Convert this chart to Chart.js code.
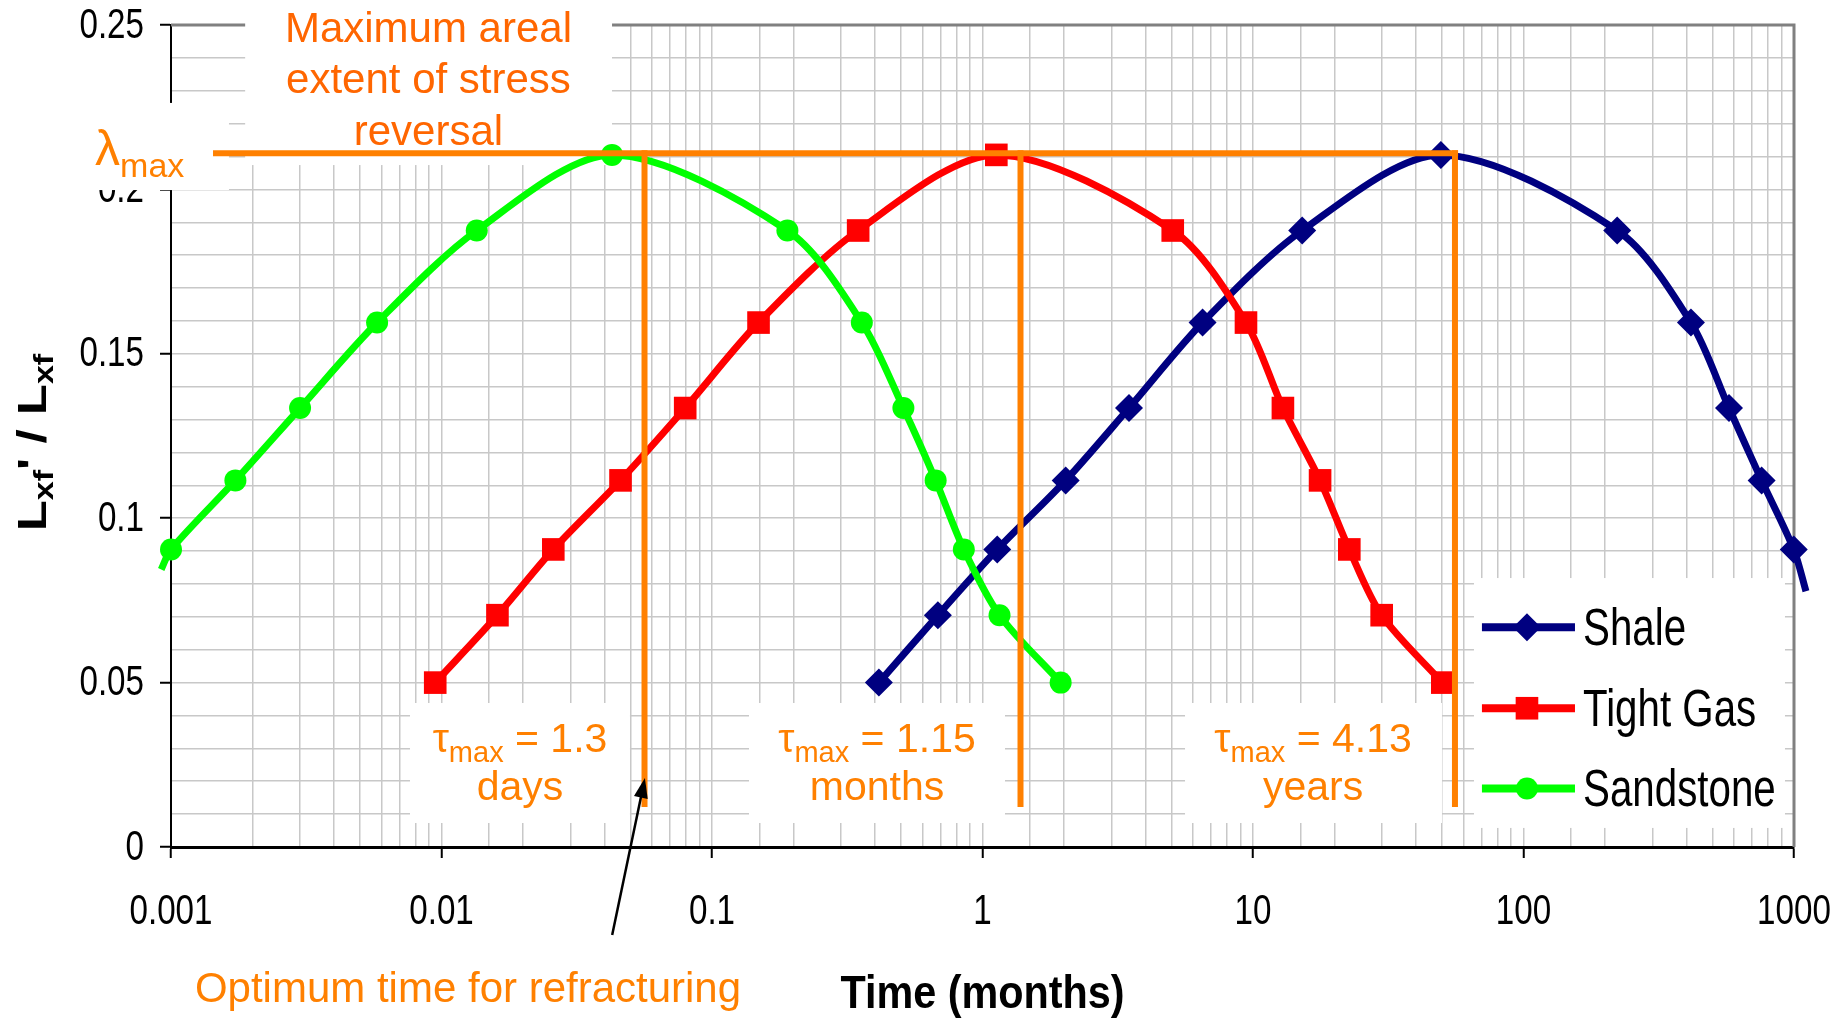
<!DOCTYPE html>
<html>
<head>
<meta charset="utf-8">
<script src="https://cdn.jsdelivr.net/npm/chart.js@4.4.1/dist/chart.umd.min.js"></script>
<style>
  html, body { margin: 0; padding: 0; background: #fff; }
  #wrap { width: 1845px; height: 1020px; position: relative; }
</style>
</head>
<body>
<div id="wrap"><canvas id="chart"></canvas></div>
<script>
(function () {
    /* ── Data (time in months, Lxf'/Lxf) ── */
    const shaleTime  = [0.414, 0.684, 1.134, 2.03, 3.48, 6.51, 15.2, 49.5, 222, 416, 575, 759, 998, 1107];
    const shaleRatio = [0.05, 0.0705, 0.0905, 0.1115, 0.1335, 0.1595, 0.1875, 0.2105, 0.1875, 0.1595, 0.1335, 0.1115, 0.0905, 0.0778];

    const tightTime  = [0.00948, 0.0161, 0.0259, 0.0459, 0.0796, 0.1486, 0.347, 1.125, 5.05, 9.42, 12.9, 17.7, 22.7, 29.9, 50.1];
    const tightRatio = [0.05, 0.0705, 0.0905, 0.1115, 0.1335, 0.1595, 0.1875, 0.2105, 0.1875, 0.1595, 0.1335, 0.1115, 0.0905, 0.0705, 0.05];

    const sandTime   = [0.00092, 0.001, 0.00173, 0.0030, 0.00578, 0.0135, 0.0427, 0.190, 0.358, 0.510, 0.671, 0.853, 1.156, 1.945];
    const sandRatio  = [0.0844, 0.0905, 0.1115, 0.1335, 0.1595, 0.1875, 0.2105, 0.1875, 0.1595, 0.1335, 0.1115, 0.0905, 0.0705, 0.05];

    const xTicks = [0.001, 0.01, 0.1, 1, 10, 100, 1000];
    const yTicks = [0, 0.05, 0.1, 0.15, 0.2, 0.25];

    // annotation values
    const lambdaMax = 0.211;
    const tauTime   = [0.0563, 1.382, 55.8];
    const tauValue  = ['= 1.3', '= 1.15', '= 4.13'];
    const tauUnit   = ['days', 'months', 'years'];

    const FONT   = "'Liberation Sans', Arial, sans-serif";
    const ORANGE = '#ff8000';
    const SQ     = 0.79;   // the original chart is squeezed sideways

    function pts(xs, ys) { return xs.map((x, i) => ({ x: x, y: ys[i] })); }
    function inRange(c) { return c.raw && c.raw.x >= xTicks[0] && c.raw.x <= xTicks[xTicks.length - 1]; }
    function isDecade(v) { const l = Math.log10(v); return Math.abs(l - Math.round(l)) < 1e-6; }
    function isMajorY(v) { return Math.abs(v * 20 - Math.round(v * 20)) < 1e-6; }

    function tx(chart, t) { return chart.scales.x.getPixelForValue(t); }
    function ty(chart, v) { return chart.scales.y.getPixelForValue(v); }

    function squeezed(ctx, text, x, y, sx, align) {
        ctx.save();
        ctx.translate(x, y);
        ctx.scale(sx, 1);
        ctx.textAlign = align;
        ctx.fillText(text, 0, 0);
        ctx.restore();
    }

    // runs: [text, size, dy]
    function rich(ctx, runs, x, y, align, weight) {
        const w = weight ? weight + ' ' : '';
        let total = 0;
        runs.forEach(r => { ctx.font = w + r[1] + 'px ' + FONT; total += ctx.measureText(r[0]).width; });
        let cx = align === 'center' ? x - total / 2 : x;
        ctx.textAlign = 'left';
        runs.forEach(r => {
            ctx.font = w + r[1] + 'px ' + FONT;
            ctx.fillText(r[0], cx, y + r[2]);
            cx += ctx.measureText(r[0]).width;
        });
    }

    /* ── Overlay: frame, labels, text boxes, refracturing lines, legend ── */
    const overlay = {
        id: 'overlay',
        beforeDatasetsDraw(chart) {
            const ctx = chart.ctx, a = chart.chartArea;
            ctx.save();
            ctx.strokeStyle = '#808080';
            ctx.lineWidth = 3;
            ctx.beginPath();
            ctx.moveTo(a.left, a.top);
            ctx.lineTo(a.right, a.top);
            ctx.lineTo(a.right, a.bottom);
            ctx.stroke();

            // tick labels
            ctx.fillStyle = '#000';
            ctx.font = '42px ' + FONT;
            ctx.textBaseline = 'alphabetic';
            xTicks.forEach(t => squeezed(ctx, String(t), tx(chart, t), a.bottom + 77, SQ, 'center'));
            ctx.textBaseline = 'middle';
            yTicks.forEach(v => squeezed(ctx, String(v), a.left - 27, ty(chart, v) + 1, SQ, 'right'));

            // axis titles
            ctx.textBaseline = 'alphabetic';
            ctx.font = 'bold 47px ' + FONT;
            squeezed(ctx, 'Time (months)', tx(chart, 1), a.bottom + 161, 0.88, 'center');

            ctx.save();
            ctx.translate(32, ty(chart, 0.123));
            ctx.rotate(-Math.PI / 2);
            ctx.scale(1, SQ);
            const runs = [['L', 51, 0], ['xf', 34, 9], ["'", 51, 0], [' / ', 51, 0], ['L', 51, 0], ['xf', 34, 9]];
            rich(ctx, runs, 0, 18, 'center', 'bold');
            ctx.restore();

            // white text boxes over the grid
            const boxes = [
                [0.00188, 0.0427, 0.2074, 0.2576],
                [0.000441, 0.001638, 0.1998, 0.2263],
                [0.007647, 0.04973, 0.0073, 0.0438],
                [0.1370, 1.211, 0.0073, 0.0438],
                [5.607, 49.96, 0.0073, 0.0438]
            ];
            ctx.fillStyle = '#fff';
            boxes.forEach(b => {
                const x0 = tx(chart, b[0]), x1 = tx(chart, b[1]);
                const y0 = ty(chart, b[3]), y1 = ty(chart, b[2]);
                ctx.fillRect(x0, y0, x1 - x0, y1 - y0);
            });
            ctx.restore();
        },
        afterDatasetsDraw(chart) {
            const ctx = chart.ctx;
            ctx.save();

            // lambda max and tau max lines
            ctx.strokeStyle = ORANGE;
            ctx.lineWidth = 6;
            const yl = ty(chart, lambdaMax);
            ctx.beginPath();
            ctx.moveTo(tx(chart, 0.00143), yl);
            ctx.lineTo(tx(chart, 57.3), yl);
            ctx.stroke();
            tauTime.forEach(t => {
                ctx.beginPath();
                ctx.moveTo(tx(chart, t), yl - 3);
                ctx.lineTo(tx(chart, t), ty(chart, 0.0122));
                ctx.stroke();
            });

            // texts
            ctx.textBaseline = 'alphabetic';
            ctx.fillStyle = '#ff6600';
            ['Maximum areal', 'extent of stress', 'reversal'].forEach((s, i) => {
                rich(ctx, [[s, 42, 0]], tx(chart, 0.00895), ty(chart, [0.2449, 0.2292, 0.2135][i]), 'center');
            });
            ctx.fillStyle = ORANGE;
            rich(ctx, [['λ', 50, 0], ['max', 34, 12]], tx(chart, 0.000524), ty(chart, 0.2074), 'left');

            const tauCenter = [0.01951, 0.4073, 16.67];
            tauCenter.forEach((c, i) => {
                rich(ctx, [['τ', 41, 0], ['max', 29, 10], [' ' + tauValue[i], 41, 0]], tx(chart, c), ty(chart, 0.029), 'center');
                rich(ctx, [[tauUnit[i], 41, 0]], tx(chart, c), ty(chart, 0.0143), 'center');
            });
            rich(ctx, [['Optimum time for refracturing', 42, 0]], tx(chart, 0.01253), ty(chart, -0.047), 'center');

            // arrow to the first refracturing line
            const x1 = tx(chart, 0.04275), y1 = ty(chart, -0.02676);
            const x2 = tx(chart, 0.0565),  y2 = ty(chart, 0.021);
            const ang = Math.atan2(y2 - y1, x2 - x1);
            ctx.strokeStyle = '#000';
            ctx.fillStyle = '#000';
            ctx.lineWidth = 2.5;
            ctx.beginPath();
            ctx.moveTo(x1, y1);
            ctx.lineTo(x2 - 14 * Math.cos(ang), y2 - 14 * Math.sin(ang));
            ctx.stroke();
            ctx.beginPath();
            ctx.moveTo(x2, y2);
            ctx.lineTo(x2 - 20 * Math.cos(ang) + 7 * Math.sin(ang), y2 - 20 * Math.sin(ang) - 7 * Math.cos(ang));
            ctx.lineTo(x2 - 20 * Math.cos(ang) - 7 * Math.sin(ang), y2 - 20 * Math.sin(ang) + 7 * Math.cos(ang));
            ctx.closePath();
            ctx.fill();

            // legend
            const lx0 = tx(chart, 65.6), lx1 = tx(chart, 926);
            const ly0 = ty(chart, 0.0818), ly1 = ty(chart, 0.0058);
            ctx.fillStyle = '#fff';
            ctx.fillRect(lx0, ly0, lx1 - lx0, ly1 - ly0);
            const rows = [0.0668, 0.0422, 0.0178];
            chart.data.datasets.forEach((ds, i) => {
                const y = ty(chart, rows[i]);
                ctx.strokeStyle = ds.borderColor;
                ctx.lineWidth = 8;
                ctx.beginPath();
                ctx.moveTo(tx(chart, 70.2), y);
                ctx.lineTo(tx(chart, 155), y);
                ctx.stroke();
                ctx.fillStyle = ds.borderColor;
                Chart.helpers.drawPoint(ctx, { pointStyle: ds.pointStyle, radius: ds.legendRadius, rotation: 0, borderWidth: 0 }, tx(chart, 103), y);
                ctx.fillStyle = '#000';
                ctx.font = '51px ' + FONT;
                ctx.textBaseline = 'alphabetic';
                squeezed(ctx, ds.label, tx(chart, 166), y + 18, SQ, 'left');
            });
            ctx.restore();
        }
    };

    function series(label, xs, ys, color, style, r, order) {
        return {
            label: label,
            data: pts(xs, ys),
            borderColor: color,
            backgroundColor: color,
            borderWidth: 7,
            pointStyle: style,
            pointRadius: c => inRange(c) ? r : 0,
            pointBorderWidth: 0,
            pointBackgroundColor: color,
            legendRadius: r,
            tension: 0.3,
            clip: false,
            order: order
        };
    }

    new Chart(document.getElementById('chart'), {
        type: 'line',
        data: {
            datasets: [
                series('Shale', shaleTime, shaleRatio, '#000080', 'rectRot', 14, 2),
                series('Tight Gas', tightTime, tightRatio, '#ff0000', 'rect', 16, 1),
                series('Sandstone', sandTime, sandRatio, '#00ff00', 'circle', 11, 0)
            ]
        },
        options: {
            responsive: true,
            maintainAspectRatio: false,
            animation: false,
            events: [],
            layout: { padding: { left: 0, top: 25, right: 51, bottom: 0 } },
            plugins: { legend: { display: false }, tooltip: { enabled: false } },
            scales: {
                x: {
                    type: 'logarithmic',
                    min: 0.001,
                    max: 1000,
                    afterFit: s => { s.height = 173; },
                    ticks: { display: false, autoSkip: false },
                    grid: {
                        color: '#c8c8c8',
                        lineWidth: 1.5,
                        tickLength: 11,
                        tickWidth: 2,
                        tickColor: c => (c.tick && isDecade(c.tick.value)) ? '#000' : 'rgba(0,0,0,0)'
                    },
                    border: { display: true, color: '#000', width: 3 }
                },
                y: {
                    min: 0,
                    max: 0.25,
                    afterFit: s => { s.width = 171; },
                    ticks: { display: false, stepSize: 0.01, autoSkip: false },
                    grid: {
                        color: '#c8c8c8',
                        lineWidth: 1.5,
                        tickLength: 11,
                        tickWidth: 2,
                        tickColor: c => (c.tick && isMajorY(c.tick.value)) ? '#000' : 'rgba(0,0,0,0)'
                    },
                    border: { display: true, color: '#000', width: 2 }
                }
            }
        },
        plugins: [overlay]
    });
})();
</script>
</body>
</html>
